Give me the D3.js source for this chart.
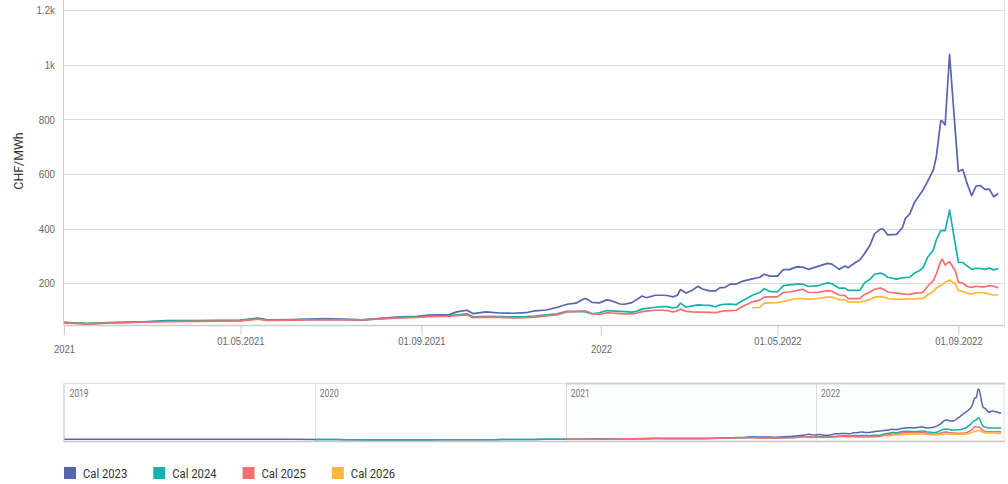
<!DOCTYPE html>
<html>
<head>
<meta charset="utf-8">
<script src="https://cdn.jsdelivr.net/npm/d3@7"></script>
<style>
  body { margin: 0; background: #fff; }
  svg { display: block; font-family: Roboto, "Open Sans", sans-serif; }
</style>
</head>
<body>
<svg id="chart" width="1008" height="484"></svg>
<script>
// values (CHF/MWh)
var dates = ["2021-01-01","2021-01-17","2021-02-01","2021-02-24","2021-03-12","2021-04-03","2021-05-01","2021-05-13",
  "2021-05-19","2021-06-06","2021-06-28","2021-07-23","2021-08-15","2021-08-29","2021-09-06","2021-09-20",
  "2021-09-25","2021-10-02","2021-10-06","2021-10-15","2021-10-24","2021-11-02","2021-11-11","2021-11-17",
  "2021-11-25","2021-12-02","2021-12-09","2021-12-15","2021-12-21","2021-12-23","2021-12-26","2021-12-31",
  "2022-01-05","2022-01-08","2022-01-14","2022-01-17","2022-01-22","2022-01-25","2022-01-29","2022-02-01",
  "2022-02-07","2022-02-12","2022-02-15","2022-02-19","2022-02-22","2022-02-24","2022-02-28","2022-03-04",
  "2022-03-08","2022-03-11","2022-03-16","2022-03-20","2022-03-23","2022-03-26","2022-03-30","2022-04-03",
  "2022-04-07","2022-04-14","2022-04-19","2022-04-22","2022-04-26","2022-05-01","2022-05-05","2022-05-09",
  "2022-05-14","2022-05-18","2022-05-22","2022-05-28","2022-06-04","2022-06-07","2022-06-12","2022-06-16",
  "2022-06-18","2022-06-23","2022-06-26","2022-06-29","2022-07-03","2022-07-06","2022-07-10","2022-07-12",
  "2022-07-15","2022-07-21","2022-07-25","2022-07-27","2022-07-30","2022-08-02","2022-08-06","2022-08-08",
  "2022-08-11","2022-08-15","2022-08-17","2022-08-20","2022-08-21","2022-08-23","2022-08-26","2022-08-30",
  "2022-09-01","2022-09-04","2022-09-07","2022-09-10","2022-09-13","2022-09-16","2022-09-19","2022-09-22",
  "2022-09-25","2022-09-28"];

var cal2023 = [57,52,56,59,63,63,65,72, 66,67,70,66,76,79,83,85, 95,101,89,95,91,90,92,99,
  102,111,123,127,144,141,130,128, 139,136,124,123,129,139,153,147, 156,156,155,150,156,177,164,174,
  189,179,172,172,184,184,197,197, 207,216,222,233,226,226,250,250, 260,259,251,261,273,270,251,263,
  257,276,285,307,340,381,398,398, 377,379,404,438,454,495,527,542, 572,615,664,795,794,780,1039,749,
  609,617,564,521,556,558,544,545, 517,529];

var cal2024 = [56,52,55,58,61,62,63,70, 65,66,68,66,74,77,79,81, 84,88,77,79,78,77,78,80,
  84,88,97,96,96,92,88,92, 100,99,97,96,94,97,105,108, 112,114,114,110,113,127,112,117,
  121,120,119,114,121,123,124,122, 135,156,166,180,170,168,191,194, 197,197,188,190,202,198,182,182,
  174,174,174,200,215,233,237,233, 222,215,220,221,222,237,248,257, 294,322,359,393,393,393,468,340,
  277,276,263,251,255,254,251,256, 249,254];

var cal2025 = [55,51,54,57,59,60,62,68, 64,65,67,66,72,75,78,79, 81,84,74,76,75,73,74,76,
  80,84,95,97,99,95,89,86, 92,91,89,88,88,90,96,98, 101,101,100,95,99,105,97,95,
  94,94,93,92,96,99,100,101, 114,132,138,149,150,150,166,168, 173,178,167,166,173,171,157,155,
  144,144,144,158,168,178,182,178, 168,164,161,160,159,163,165,167, 188,210,234,280,288,267,279,245,
  204,200,188,185,189,187,187,191, 189,183];

var cal2026 = [null,null,null,null,null,null,null,null, null,null,null,null,null,null,null,null,
  null,null,null,null,null,null,null,null, null,null,null,null,null,null,null,null,
  null,null,null,null,null,null,null,null, null,null,null,null,null,null,null,null,
  null,null,null,null,null,null,null,null, null,110,112,127,128,129,133,138, 144,144,141,144,149,149,140,139,
  132,131,131,135,141,149,151,149, 144,141,141,142,143,143,144,144, 157,170,182,192,195,204,212,197,
  173,170,163,160,166,166,165,160, 157,157];

// older history, only visible in the navigator
var histDates = ["2019-01-01","2019-02-01","2019-03-01","2019-04-01","2019-05-01","2019-06-01",
  "2019-07-01","2019-08-01","2019-09-01","2019-10-01","2019-11-01","2019-12-01",
  "2020-01-01","2020-02-01","2020-03-01","2020-04-01","2020-05-01","2020-06-01",
  "2020-07-01","2020-08-01","2020-09-01","2020-10-01","2020-11-01","2020-12-01"];
var histCal2023 = [53,54,53,52,52,53,54,55,54,53,52,52, 50,47,44,41,40,41,43,45,46,47,49,52];
var histCal2024 = [null,null,null,null,null,null,null,null,null,null,null,null,
  50,47,44,41,40,41,43,45,46,47,49,52];

var seriesNames = ["Cal 2023", "Cal 2024", "Cal 2025", "Cal 2026"];
var seriesColors = ["#5964b0", "#13b3ab", "#f26f6f", "#fcb83a"];

var yTicks = [200, 400, 600, 800, 1000, 1200];
var yTickLabels = ["200", "400", "600", "800", "1k", "1.2k"];
var xTicks = ["2021-01-01", "2021-05-01", "2021-09-01", "2022-01-01", "2022-05-01", "2022-09-01"];
var xTickLabels = ["2021", "01.05.2021", "01.09.2021", "2022", "01.05.2022", "01.09.2022"];
var navYears = ["2019-01-01", "2020-01-01", "2021-01-01", "2022-01-01"];
var navYearLabels = ["2019", "2020", "2021", "2022"];

var parse = d3.utcParse("%Y-%m-%d");
var endDate = parse("2022-10-02");

// squeeze text a little, the original font is narrow
function condense(sel, k) {
    sel.each(function () {
        var w = this.getComputedTextLength();
        d3.select(this).attr("textLength", w * k).attr("lengthAdjust", "spacingAndGlyphs");
    });
}

function toPoints(ds, vs) {
    return ds.map(function (d, i) { return { date: parse(d), v: vs[i] }; });
}

var mainSeries = [cal2023, cal2024, cal2025, cal2026].map(function (vs) { return toPoints(dates, vs); });
var navSeries = [
    toPoints(histDates, histCal2023).concat(mainSeries[0]),
    toPoints(histDates, histCal2024).concat(mainSeries[1]),
    mainSeries[2],
    mainSeries[3]
];

var svg = d3.select("#chart");
var plotLeft = 63.9, plotRight = 1004, plotTop = 10.3, plotBottom = 325;

var x = d3.scaleUtc()
    .domain([parse("2021-01-01"), endDate])
    .range([plotLeft, plotRight]);

var y = d3.scaleLinear()
    .domain([47, 1200])
    .range([plotBottom, plotTop]);

// grid
svg.append("g")
    .selectAll("line")
    .data(yTicks)
    .enter()
    .append("line")
    .attr("x1", plotLeft)
    .attr("x2", plotRight)
    .attr("y1", function (d) { return Math.round(y(d)) + 0.5; })
    .attr("y2", function (d) { return Math.round(y(d)) + 0.5; })
    .attr("stroke", "#dcdcdc");

// plot side borders
svg.append("line")
    .attr("x1", 63.5).attr("x2", 63.5).attr("y1", 0).attr("y2", plotBottom)
    .attr("stroke", "#cfcfcf");
svg.append("line")
    .attr("x1", plotRight + 0.5).attr("x2", plotRight + 0.5).attr("y1", 0).attr("y2", plotBottom)
    .attr("stroke", "#e2e2e2");

// y axis
var yAxis = svg.append("g")
    .attr("transform", "translate(" + plotLeft + ",0)")
    .call(d3.axisLeft(y)
        .tickValues(yTicks)
        .tickFormat(function (d, i) { return yTickLabels[i]; })
        .tickSize(0)
        .tickPadding(9));
yAxis.select(".domain").remove();
yAxis.selectAll("text")
    .attr("fill", "#666")
    .style("font-size", "11px")
    .call(condense, 0.88);

svg.append("text")
    .attr("transform", "translate(23,161) rotate(-90)")
    .attr("text-anchor", "middle")
    .attr("fill", "#333")
    .style("font-size", "13px")
    .text("CHF/MWh")
    .call(condense, 0.95);

// x axis
var xAxis = svg.append("g")
    .attr("transform", "translate(0," + plotBottom + ")")
    .call(d3.axisBottom(x)
        .tickValues(xTicks.map(parse))
        .tickFormat(function (d, i) { return xTickLabels[i]; })
        .tickSize(10)
        .tickSizeOuter(0));
xAxis.select(".domain").attr("stroke", "#cccccc").attr("stroke-width", 1.5);
xAxis.selectAll(".tick line").attr("stroke", "#cccccc");
xAxis.selectAll("text")
    .attr("fill", "#666")
    .style("font-size", "10.5px")
    .attr("dy", function (d, i) { return xTickLabels[i].length == 4 ? "1.45em" : "0.71em"; })
    .call(condense, 0.9);

// series lines
svg.append("clipPath")
    .attr("id", "plotClip")
    .append("rect")
    .attr("x", plotLeft).attr("y", 0)
    .attr("width", plotRight - plotLeft).attr("height", plotBottom);

var line = d3.line()
    .defined(function (d) { return d.v != null; })
    .x(function (d) { return x(d.date); })
    .y(function (d) { return y(d.v); });

svg.append("g")
    .attr("clip-path", "url(#plotClip)")
    .selectAll("path")
    .data(mainSeries)
    .enter()
    .append("path")
    .attr("d", line)
    .attr("fill", "none")
    .attr("stroke", function (d, i) { return seriesColors[i]; })
    .attr("stroke-width", 1.7)
    .attr("stroke-linejoin", "round");

// navigator
var navTop = 383, navBottom = 441;
var nx = d3.scaleUtc()
    .domain([parse("2019-01-01"), endDate])
    .range([64.4, plotRight]);
var allNav = [].concat.apply([], navSeries).filter(function (d) { return d.v != null; });
var ny = d3.scaleLinear()
    .domain(d3.extent(allNav, function (d) { return d.v; }))
    .range([navBottom - 1, navTop + 1]);

var nav = svg.append("g");

nav.append("rect")
    .attr("x", nx(parse("2021-01-01")))
    .attr("y", navTop)
    .attr("width", plotRight - nx(parse("2021-01-01")))
    .attr("height", navBottom - navTop)
    .attr("fill", "rgba(0,120,120,0.012)");

nav.selectAll(".yr")
    .data(navYears)
    .enter()
    .append("line")
    .attr("x1", function (d) { return Math.round(nx(parse(d))) + 0.5; })
    .attr("x2", function (d) { return Math.round(nx(parse(d))) + 0.5; })
    .attr("y1", navTop)
    .attr("y2", navBottom)
    .attr("stroke", "#dedede");

nav.selectAll(".yl")
    .data(navYears)
    .enter()
    .append("text")
    .attr("x", function (d) { return nx(parse(d)) + 5; })
    .attr("y", 397)
    .attr("fill", "#777")
    .style("font-size", "10px")
    .text(function (d, i) { return navYearLabels[i]; })
    .call(condense, 0.85);

var navLine = d3.line()
    .defined(function (d) { return d.v != null; })
    .curve(d3.curveBasis)
    .x(function (d) { return nx(d.date); })
    .y(function (d) { return ny(d.v); });

nav.selectAll(".nl")
    .data(navSeries)
    .enter()
    .append("path")
    .attr("d", navLine)
    .attr("fill", "none")
    .attr("stroke", function (d, i) { return seriesColors[i]; })
    .attr("stroke-width", 1.5);

nav.append("rect")
    .attr("x", 63.5).attr("y", navTop + 0.5)
    .attr("width", plotRight - 63.5).attr("height", navBottom - navTop)
    .attr("fill", "none")
    .attr("stroke", "#e0e0e0");
nav.append("line")
    .attr("x1", nx(parse("2021-01-01"))).attr("x2", plotRight + 1)
    .attr("y1", navTop + 0.5).attr("y2", navTop + 0.5)
    .attr("stroke", "#d0d0d0").attr("stroke-width", 2);
nav.append("line")
    .attr("x1", 63.5).attr("x2", plotRight + 1)
    .attr("y1", navBottom + 0.5).attr("y2", navBottom + 0.5)
    .attr("stroke", "#c8c8c8").attr("stroke-width", 1.5);

// legend
var legend = svg.append("g").attr("transform", "translate(64,0)");
var lx = 0;
seriesNames.forEach(function (name, i) {
    var item = legend.append("g").attr("transform", "translate(" + lx + ",0)");
    item.append("rect")
        .attr("x", 0).attr("y", 467)
        .attr("width", 12).attr("height", 12)
        .attr("fill", seriesColors[i]);
    var t = item.append("text")
        .attr("x", 19).attr("y", 477.5)
        .attr("fill", "#333")
        .style("font-size", "12.5px")
        .text(name)
        .call(condense, 0.9);
    lx += 19 + +t.attr("textLength") + 26;
});
</script>
</body>
</html>
